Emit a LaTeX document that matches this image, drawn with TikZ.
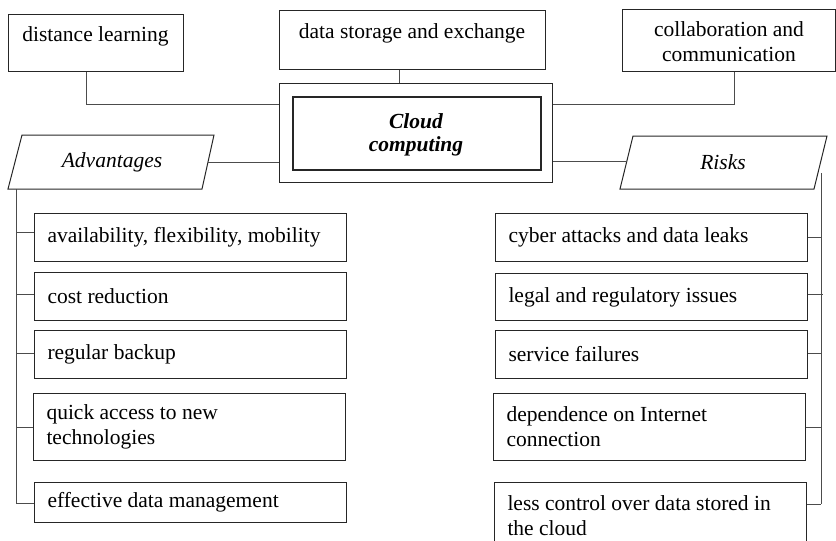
\documentclass[tikz,border=0pt]{standalone}
\usepackage{fontspec}
\setmainfont{Liberation Serif}
\definecolor{boxline}{gray}{0.15}
\definecolor{linkline}{gray}{0.3}
\begin{document}
\begin{tikzpicture}[x=1pt,y=-1pt,
  every node/.style={font=\fontsize{21.5}{25}\selectfont},
  frame/.style={draw=boxline, line width=1pt, rectangle, inner sep=0pt, anchor=north west},
  item/.style={frame, inner xsep=13pt, inner ysep=0pt, text width=286pt, align=left,
    minimum height=#1, execute at begin node={\spaceskip=0pt\xspaceskip=0pt\relax}},
  shapeline/.style={draw=boxline, line width=1pt, line join=miter},
  link/.style={draw=linkline, line width=1pt}]
\useasboundingbox (0,0) rectangle (836,541);
\clip (0,0) rectangle (836,541);

% top row of application areas
\node[frame, minimum width=175pt, minimum height=57pt] (dl) at (8,14) {};
\node[anchor=base] (dltext) at (95.5,41) {distance learning};
\node[frame, minimum width=266pt, minimum height=59pt] (ds) at (279,10) {};
\node[anchor=base] (dstext) at (412,38) {data storage and exchange};
\node[frame, minimum width=213pt, minimum height=62pt] (cb) at (622,9) {};
\node[align=center, execute at begin node={\spaceskip=0pt\xspaceskip=0pt\relax}] (cbtext) at (729,42) {collaboration and\\communication};

% central double frame
\node[frame, minimum width=273pt, minimum height=99pt] (ccout) at (279,83) {};
\node[frame, line width=1.8pt, minimum width=248pt, minimum height=73pt] (ccin) at (292,96) {};
\node[align=center, font=\fontsize{21.5}{23}\selectfont\bfseries\itshape] (cctext) at (416,135) {Cloud\\computing};

% parallelogram headings
\coordinate (a-tl) at (22,135);
\coordinate (a-tr) at (214,135);
\coordinate (a-br) at (202,189);
\coordinate (a-bl) at (8,189);
\draw[shapeline] (a-tl) -- (a-tr) -- (a-br) -- (a-bl) -- cycle;
\node (advtext) at (112,162) {\itshape Advantages};

\coordinate (r-tl) at (633,136);
\coordinate (r-tr) at (827,136);
\coordinate (r-br) at (814,189);
\coordinate (r-bl) at (620,189);
\draw[shapeline] (r-tl) -- (r-tr) -- (r-br) -- (r-bl) -- cycle;
\node (risktext) at (723,162) {\itshape Risks};

% advantages list
\node[item=48pt] (L1) at (34,213) {availability, flexibility, mobility};
\node[item=48pt] (L2) at (34,272) {cost reduction};
\node[item=48pt] (L3) at (34,330) {regular backup};
\node[item=67pt] (L4) at (33,393) {quick access to new\\technologies};
\node[item=40pt] (L5) at (34,482) {effective data management};

% risks list
\node[item=48pt] (R1) at (495,213) {cyber attacks and data leaks};
\node[item=47pt] (R2) at (495,273) {legal and regulatory issues};
\node[item=48pt] (R3) at (495,330) {service failures};
\node[item=67pt] (R4) at (493,393) {dependence on Internet\\connection};
\node[item=67pt] (R5) at (494,482) {less control over data stored in\\the cloud};

% links from the application areas to the centre
\draw[link] (dl.south west) ++(78,0) |- (ccout.west |- 0,104);
\draw[link] (ds.south -| 399,0) -- (ccout.north -| 399,0);
\draw[link] (cb.south -| 734,0) |- (ccout.east |- 0,104);

% links from the centre to the headings
\coordinate (a-side) at (208,162);
\coordinate (r-side) at (627,161);
\draw[link] (a-side) -- (ccout.west |- a-side);
\draw[link] (ccout.east |- r-side) -- (r-side);

% left trunk with its ticks
\coordinate (atrunk) at (16,189);
\draw[link] (atrunk) -- (atrunk |- 0,503);
\draw[link] (atrunk |- 0,232) -- (L1.west |- 0,232);
\draw[link] (atrunk |- 0,294) -- (L2.west |- 0,294);
\draw[link] (atrunk |- 0,353) -- (L3.west |- 0,353);
\draw[link] (atrunk |- 0,427) -- (L4.west |- 0,427);
\draw[link] (atrunk |- 0,503) -- (L5.west |- 0,503);

% right trunk with its ticks
\coordinate (rtrunk) at (821,173);
\draw[link] (rtrunk) -- (rtrunk |- 0,504);
\draw[link] (R1.east |- 0,237) -- (rtrunk |- 0,237);
\draw[link] (R2.east |- 0,294) -- ([xshift=2pt]rtrunk |- 0,294);
\draw[link] (R3.east |- 0,353) -- (rtrunk |- 0,353);
\draw[link] (R4.east |- 0,427) -- (rtrunk |- 0,427);
\draw[link] (R5.east |- 0,504) -- (rtrunk |- 0,504);
\end{tikzpicture}
\end{document}
